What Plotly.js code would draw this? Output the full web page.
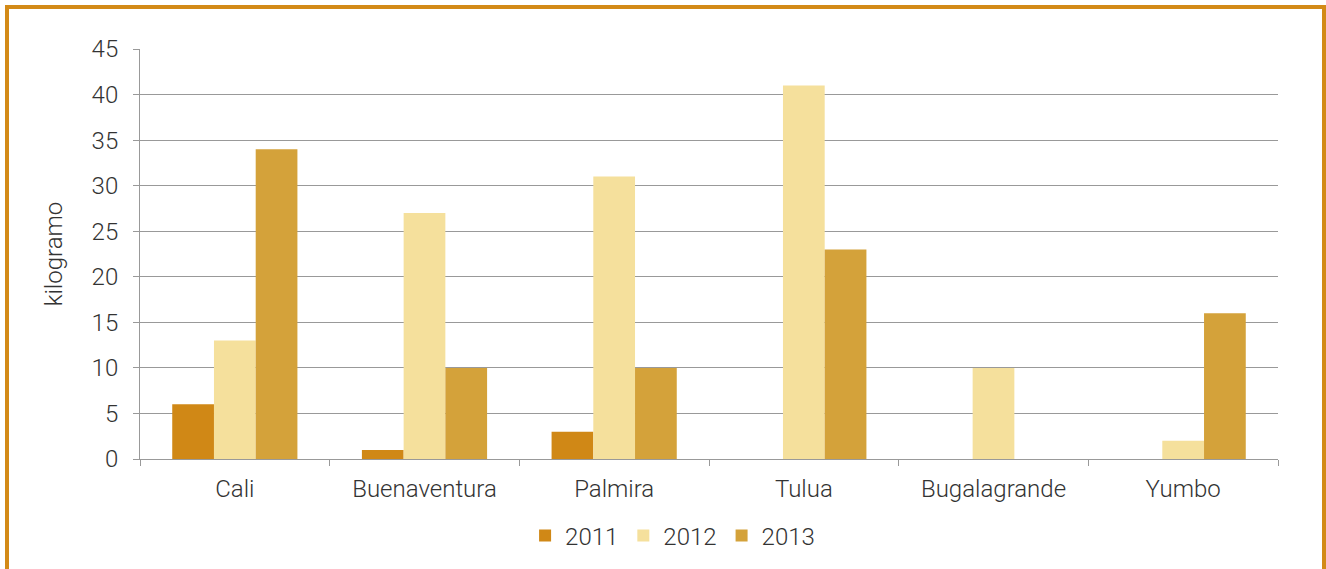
<!DOCTYPE html>
<html>
<head>
<meta charset="utf-8">
<script src="https://cdn.plot.ly/plotly-3.0.1.min.js"></script>
<style>
    body { margin: 0; overflow: hidden; background: #fff; }
    #graph { position: absolute; left: 0; top: 0; width: 1326px; height: 569px; }
    #frame {
        position: absolute; left: 5px; top: 5px; width: 1313px; height: 600px;
        border: 4px solid #D38A17; border-bottom: none; pointer-events: none;
    }
</style>
</head>
<body>
<div id="graph"></div>
<div id="frame"></div>
<script>
const cities = ['Cali', 'Buenaventura', 'Palmira', 'Tulua', 'Bugalagrande', 'Yumbo'];
const years = ['2011', '2012', '2013'];
const v2011 = [6, 1, 3, 0, 0, 0];
const v2012 = [13, 27, 31, 41, 10, 2];
const v2013 = [34, 10, 10, 23, 0, 16];
const colors = ['#D08816', '#F5E09C', '#D4A23A'];

let values = [v2011, v2012, v2013];
let data = [];
for (let i = 0; i < years.length; i++) {
    data.push({
        type: 'bar',
        x: cities,
        y: values[i],
        name: years[i],
        marker: {color: colors[i], line: {width: 0}},
        hoverinfo: 'x+y+name'
    });
}

let txt = {family: 'Roboto, sans-serif', size: 24, color: '#333', weight: 300};

let layout = {
    width: 1326,
    height: 569,
    margin: {l: 140, r: 48, t: 49, b: 109},
    paper_bgcolor: '#fff',
    plot_bgcolor: '#fff',
    font: txt,
    barmode: 'group',
    bargap: 0.34,
    bargroupgap: 0,
    showlegend: true,
    legend: {
        orientation: 'h',
        x: 0.468,
        xanchor: 'center',
        y: -0.13,
        yanchor: 'top',
        font: txt,
        itemwidth: 30,
        tracegroupgap: 0
    },
    xaxis: {
        type: 'category',
        automargin: false,
        showline: true,
        linecolor: '#999',
        linewidth: 1,
        ticks: 'outside',
        tickson: 'boundaries',
        ticklen: 6,
        tickcolor: '#999',
        showgrid: false,
        ticklabelstandoff: 8,
        tickfont: txt
    },
    yaxis: {
        range: [0, 45],
        dtick: 5,
        tick0: 0,
        automargin: false,
        showline: true,
        linecolor: '#999',
        ticks: 'outside',
        ticklen: 6,
        tickcolor: '#999',
        gridcolor: '#999',
        gridwidth: 1,
        zeroline: false,
        ticklabelstandoff: 10,
        tickfont: txt,
        title: {text: 'kilogramo', font: txt, standoff: 22}
    }
};

Plotly.newPlot('graph', data, layout, {displayModeBar: false, staticPlot: true});
</script>
</body>
</html>
